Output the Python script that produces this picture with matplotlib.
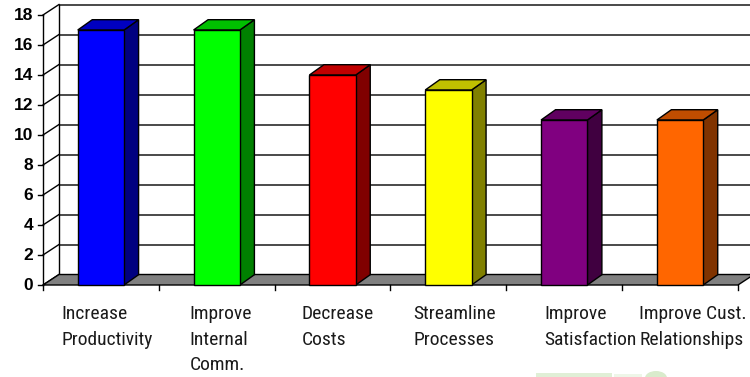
import matplotlib
matplotlib.use("Agg")
import matplotlib.pyplot as plt
from matplotlib.patches import Polygon, Rectangle, Ellipse
from matplotlib import font_manager

# ---- data ----
categories = [
    "Increase\nProductivity",
    "Improve\nInternal\nComm.",
    "Decrease\nCosts",
    "Streamline\nProcesses",
    "Improve\nSatisfaction",
    "Improve Cust.\nRelationships",
]
values = [17, 17, 14, 13, 11, 11]
front_colors = ["#0000FF", "#00FF00", "#FF0000", "#FFFF00", "#800080", "#FF6600"]
top_colors = ["#0000C0", "#00C000", "#C00000", "#C0C000", "#600060", "#C04D00"]
side_colors = ["#000080", "#008000", "#800000", "#808000", "#400040", "#803300"]
y_ticks = list(range(0, 19, 2))

# ---- fonts ----
available = {f.name for f in font_manager.fontManager.ttflist}
narrow_choices = ["Liberation Sans Narrow", "Arial Narrow", "Roboto Condensed",
                  "Archivo Narrow", "PT Sans Narrow", "Liberation Sans"]
label_font = next(f for f in narrow_choices if f in available or f == "Liberation Sans")

# ---- figure / pseudo-3D geometry ----
W, H, DPI = 750, 377, 100
fig = plt.figure(figsize=(W / DPI, H / DPI), dpi=DPI)
ax = fig.add_axes([0, 0, 1, 1])
ax.set_axis_off()

n = len(categories)
sx = 115.83            # pixels per category
sy = 15.0              # pixels per value unit
x0_px, y0_px = 43.0, 285.0
ax.set_xlim(-x0_px / sx, (W - x0_px) / sx)
ax.set_ylim((y0_px - H) / sy, y0_px / sy)

ymax = 18
wall_dx, wall_dy = 16 / sx, 10.5 / sy      # depth of the chart box
bar_dx, bar_dy = 14.5 / sx, 10.3 / sy      # depth of each column
bar_w = 0.4

# back wall
ax.add_patch(Rectangle((wall_dx, wall_dy), n, ymax, facecolor="white",
                       edgecolor="none", zorder=1))
for v in y_ticks[1:]:
    ax.plot([wall_dx, n + wall_dx + 1], [v + wall_dy] * 2, color="#3a3a3a",
            lw=1.3, zorder=2, solid_capstyle="butt")
ax.plot([wall_dx, wall_dx], [wall_dy, ymax + wall_dy], color="black", lw=1.0, zorder=2)

# side wall gridlines
for v in y_ticks:
    ax.plot([0, wall_dx], [v, v + wall_dy], color="black", lw=1.0, zorder=2)

# floor
ax.add_patch(Polygon([(0, 0), (n, 0), (n + wall_dx, wall_dy), (wall_dx, wall_dy)],
                     closed=True, facecolor="#808080", edgecolor="black",
                     lw=1.0, zorder=3, joinstyle="miter"))

# value axis
ax.plot([0, 0], [0, ymax], color="black", lw=1.0, zorder=3)
tick_len_x = 5 / sx
for v in y_ticks:
    ax.plot([-tick_len_x, 0], [v, v], color="black", lw=1.0, zorder=3)
    ax.text(-10 / sx, v, str(v), ha="right", va="center", fontsize=12.5,
            fontweight="bold", family="Liberation Sans", color="black")

# category axis ticks
for i in range(n + 1):
    ax.plot([i, i], [0, -5 / sy], color="black", lw=1.0, zorder=3)

# columns
for i, (v, fc, tc, sc) in enumerate(zip(values, front_colors, top_colors, side_colors)):
    left = i + 0.5 - bar_w / 2
    right = left + bar_w
    ax.add_patch(Polygon([(right, 0), (right + bar_dx, bar_dy),
                          (right + bar_dx, v + bar_dy), (right, v)],
                         closed=True, facecolor=sc, edgecolor="black", lw=1.0, zorder=4))
    ax.add_patch(Polygon([(left, v), (right, v), (right + bar_dx, v + bar_dy),
                          (left + bar_dx, v + bar_dy)],
                         closed=True, facecolor=tc, edgecolor="black", lw=1.0, zorder=4))
    ax.add_patch(Rectangle((left, 0), bar_w, v, facecolor=fc, edgecolor="black",
                           lw=1.0, zorder=5))

# category labels (wrapped, left-aligned block)
label_nudge_px = [6, 4, 5.5, 6, 26, 13]
for i, (lab, dxp) in enumerate(zip(categories, label_nudge_px)):
    ax.text(i + 0.5 + dxp / sx, -20 / sy, lab, ha="center", va="top",
            multialignment="left", fontsize=14, family=label_font,
            color="#1a1a1a", linespacing=1.55)

# faint green decoration along the bottom edge
def px(x, y):
    return ((x - x0_px) / sx, (y0_px - y) / sy)

ax.add_patch(Rectangle(px(536, 377), 76 / sx, 4 / sy, facecolor="#e0efd6",
                       edgecolor="none", zorder=1))
ax.add_patch(Rectangle(px(614, 377), 28 / sx, 3 / sy, facecolor="#eef6e8",
                       edgecolor="none", zorder=1))
ax.add_patch(Ellipse(px(656, 378), 22 / sx, 14 / sy, facecolor="#d9ebcc",
                     edgecolor="none", zorder=1))

fig.savefig("out.png", dpi=DPI)
